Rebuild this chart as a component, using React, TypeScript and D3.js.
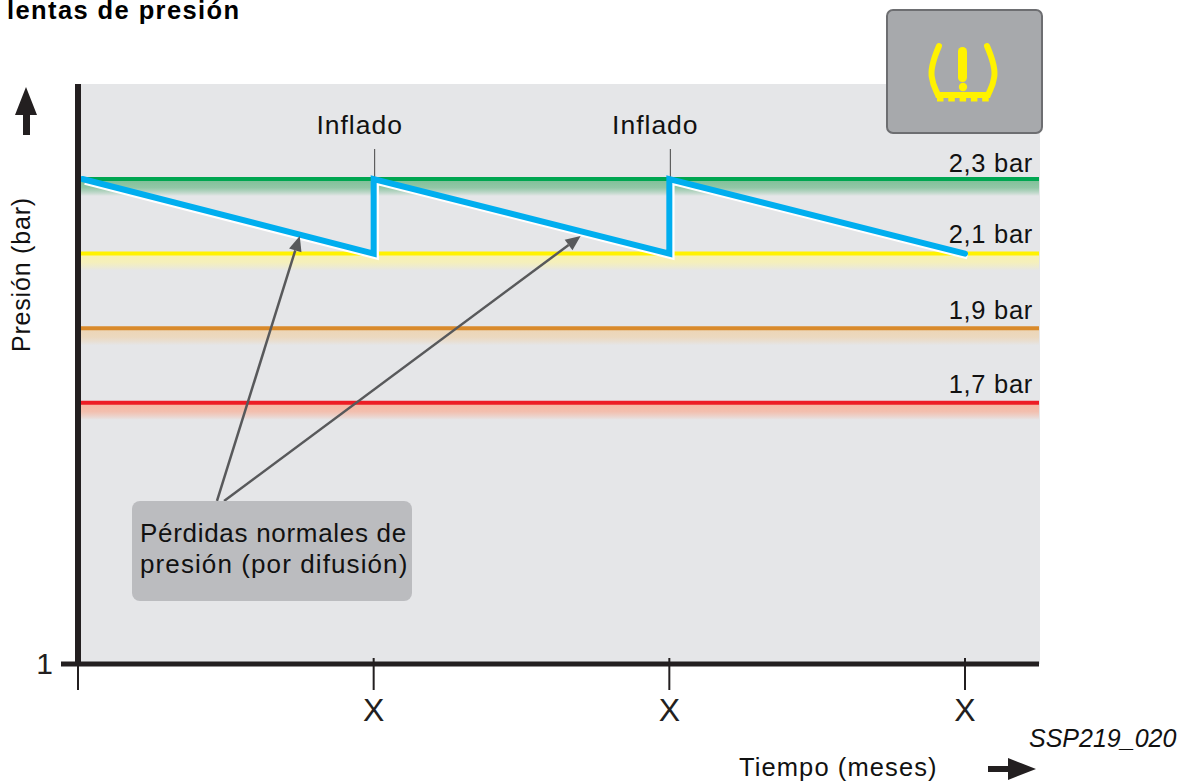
import React from "react";
import * as d3 from "d3";

const FONT = "'Liberation Sans', Arial, sans-serif";
const levels = [2.3, 2.1, 1.9, 1.7];
const levelLabels = ["2,3 bar", "2,1 bar", "1,9 bar", "1,7 bar"];
const levelColors = ["#00a651", "#fff200", "#d98a2b", "#ed1c24"];
const fadeColors = ["#7dbf96", "#f9f2b0", "#edd5b4", "#f6b5a0"];
const labelOffsets = [-7, -11, -9, -10];
const sawTime = [0.015, 1, 1, 2, 2, 3];
const sawPressure = [2.3, 2.1, 2.3, 2.1, 2.3, 2.1];
const xTicks = [0, 1, 2, 3];
const xTickLabels = ["", "X", "X", "X"];
const inflateTimes = [1, 2];
const arrowTipTime = [0.75, 1.7];
const arrowTipPressure = [2.147, 2.147];
const arrowBaseTime = [0.47, 0.494];
const arrowBasePressure = [1.437, 1.437];
const treadTeeth = [0, 1, 2, 3, 4];

const x = d3.scaleLinear().domain([0, 3]).range([78, 965]);
const y = d3.scaleLinear().domain([1, 2.3]).range([664, 179]);
const line = d3.line<number>().x((_, i) => x(sawTime[i])).y((d) => y(d));

export default function App() {
  const right = 1039;
  return (
    <svg width={1193} height={783} style={{ position: "absolute", left: 0, top: 0, fontFamily: FONT }}>
      <defs>
        {levels.map((_, i) => (
          <linearGradient key={i} id={`fade${i}`} x1="0" x2="0" y1="0" y2="1">
            <stop offset="0" stopColor={fadeColors[i]} />
            <stop offset="0.5" stopColor={fadeColors[i]} stopOpacity={0.8} />
            <stop offset="1" stopColor="#e5e6e8" />
          </linearGradient>
        ))}
      </defs>
      <text x={7} y={19} fontSize={25.5} fontWeight="bold" letterSpacing={1.4} fill="#000">lentas de presión</text>

      <rect x={80} y={84} width={right - 80 + 1} height={580} fill="#e5e6e8" />

      {levels.map((l, i) => (
        <g key={l}>
          <rect x={80} y={y(l)} width={right - 80} height={17} fill={`url(#fade${i})`} />
          <line x1={80} x2={right} y1={y(l)} y2={y(l)} stroke={levelColors[i]} strokeWidth={4} />
          <text x={1033} y={y(l) + labelOffsets[i]} textAnchor="end" fontSize={25.5} letterSpacing={0.7} fill="#111">{levelLabels[i]}</text>
        </g>
      ))}

      {inflateTimes.map((t) => (
        <g key={t}>
          <line x1={x(t) + 1} x2={x(t) + 1} y1={149} y2={y(2.3)} stroke="#444" strokeWidth={1} />
          <text x={x(t) - 14} y={134} textAnchor="middle" fontSize={26.5} letterSpacing={1} fill="#111">Inflado</text>
        </g>
      ))}

      <path d={line(sawPressure) ?? ""} transform="translate(2.5,3)" fill="none" stroke="#fff" strokeWidth={5.5} strokeLinejoin="miter" />
      <path d={line(sawPressure) ?? ""} fill="none" stroke="#00aeef" strokeWidth={6} strokeLinejoin="miter" strokeLinecap="round" />

      {arrowTipTime.map((t, i) => {
        const x0 = x(arrowBaseTime[i]), y0 = y(arrowBasePressure[i]);
        const x1 = x(t), y1 = y(arrowTipPressure[i]);
        const a = Math.atan2(y1 - y0, x1 - x0);
        const len = 15, hw = 6.5;
        const bx = x1 - len * Math.cos(a), by = y1 - len * Math.sin(a);
        const px = -Math.sin(a) * hw, py = Math.cos(a) * hw;
        return (
          <g key={t}>
            <line x1={x0} y1={y0} x2={bx} y2={by} stroke="#58595b" strokeWidth={2.5} />
            <polygon points={`${x1},${y1} ${bx + px},${by + py} ${bx - px},${by - py}`} fill="#58595b" />
          </g>
        );
      })}

      <rect x={132} y={501} width={280} height={100} rx={8} fill="#bbbcbf" />
      <text x={140} y={542} fontSize={26} letterSpacing={0.7} fill="#111">Pérdidas normales de</text>
      <text x={140} y={573} fontSize={26} letterSpacing={1.1} fill="#111">presión (por difusión)</text>

      <line x1={78} x2={78} y1={84} y2={665} stroke="#231f20" strokeWidth={6} />
      <line x1={61} x2={right} y1={664} y2={664} stroke="#231f20" strokeWidth={5} />
      {xTicks.map((t, i) => (
        <g key={t}>
          <line x1={x(t)} x2={x(t)} y1={658} y2={690} stroke="#231f20" strokeWidth={2} />
          <text x={x(t)} y={721} textAnchor="middle" fontSize={32} fill="#231f20">{xTickLabels[i]}</text>
        </g>
      ))}
      <text x={53} y={674} textAnchor="end" fontSize={30} fill="#231f20">1</text>

      <polygon points="26,87 37,115 30,115 30,135 23,135 23,115 15,115" fill="#231f20" />
      <text transform="translate(30,352) rotate(-90)" fontSize={25} letterSpacing={0.8} fill="#111">Presión (bar)</text>
      <text x={739} y={776} fontSize={25.5} letterSpacing={1.1} fill="#111">Tiempo (meses)</text>
      <polygon points="988,766 1008,766 1008,758 1036,769 1008,780 1008,772 988,772" fill="#231f20" />
      <text x={1029} y={747} fontSize={25} fontStyle="italic" fill="#111">SSP219_020</text>

      <rect x={887} y={10} width={155} height={123} rx={6} fill="#a7a9ac" stroke="#6d6e71" strokeWidth={2} />
      <path d="M939,46 C933,60 930,70 932,78 C933,86 936,90 938,95 L988,95 C990,90 993,86 994,78 C996,70 993,60 987,46" fill="none" stroke="#fff200" strokeWidth={6} strokeLinecap="round" />
      <g fill="#fff200">
        <rect x={958} y={47} width={9} height={35} rx={4.5} />
        <circle cx={963} cy={87} r={4.2} />
        {treadTeeth.map((k) => <rect key={k} x={937 + k * 11.3} y={96} width={6.5} height={5.5} />)}
      </g>
    </svg>
  );
}
